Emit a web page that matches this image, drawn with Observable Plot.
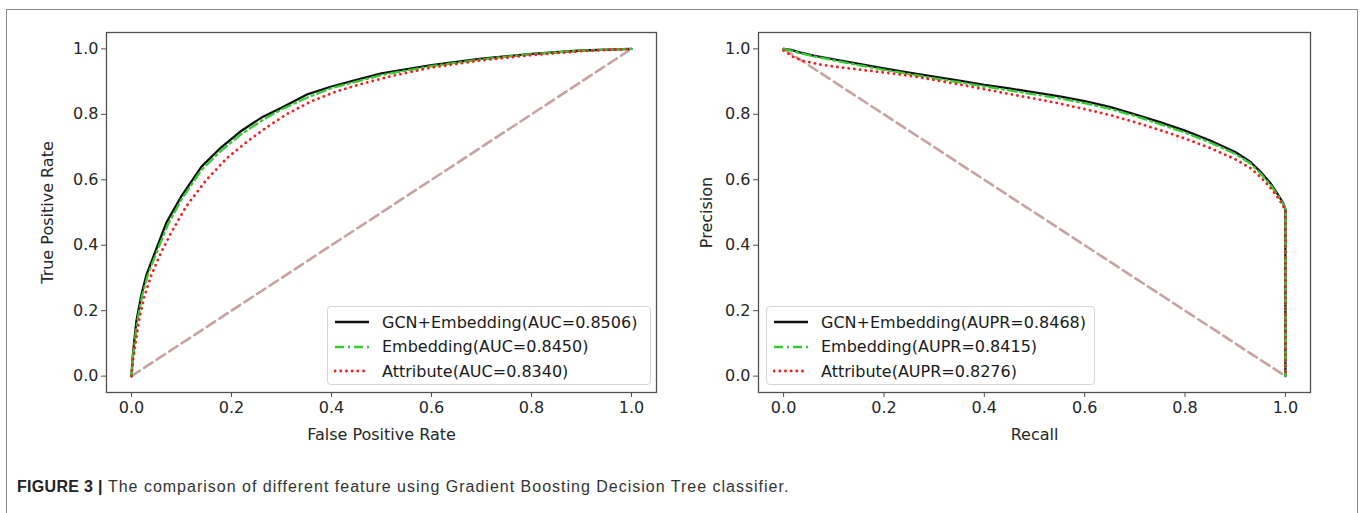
<!DOCTYPE html>
<html>
<head>
<meta charset="utf-8">
<script src="https://cdn.jsdelivr.net/npm/d3@7"></script>
<script src="https://cdn.jsdelivr.net/npm/@observablehq/plot@0.6"></script>
<style>
  html, body { margin: 0; padding: 0; background: #fff; }
  #root { position: relative; width: 1365px; height: 513px; overflow: hidden; background: #fff; }
  #border { position: absolute; left: 6px; top: 9px; width: 1352px; height: 540px; border: 1.5px solid #8c8c8c; box-sizing: border-box; }
  .plotwrap { position: absolute; top: 0; }
  .legend { position: absolute; border: 1px solid #d6d6d6; border-radius: 4px; background: rgba(255,255,255,0.85);
            font-family: "DejaVu Sans", sans-serif; font-size: 16px; color: #1a1a1a; box-sizing: border-box; }
  .legend .row { position: absolute; left: 0; height: 20px; display: flex; align-items: center; white-space: nowrap; }
  .legend svg { margin-left: 6px; margin-right: 12px; }
  #caption { position: absolute; left: 17px; top: 478px; font-family: "Liberation Sans", Arial, sans-serif; font-size: 16px; color: #333; white-space: nowrap; letter-spacing: 1.0px; }
  #caption b { color: #222; letter-spacing: 0.3px; }
</style>
</head>
<body>
<div id="root">
  <div id="border"></div>
  <div id="left" class="plotwrap" style="left:0px"></div>
  <div id="right" class="plotwrap" style="left:680px"></div>
  <div id="caption"><b>FIGURE 3 |</b> The comparison of different feature using Gradient Boosting Decision Tree classifier.</div>
</div>
<script>
// ---------- data ----------
const ticks = [0, 0.2, 0.4, 0.6, 0.8, 1.0];

// ROC curves
const rocGcnFpr = [0, 0.002, 0.005, 0.01, 0.02, 0.03, 0.05, 0.07, 0.1, 0.14, 0.18, 0.22, 0.26, 0.3, 0.35, 0.4, 0.45, 0.5, 0.6, 0.7, 0.8, 0.9, 1];
const rocGcnTpr = [0, 0.05, 0.1, 0.17, 0.25, 0.31, 0.39, 0.47, 0.55, 0.64, 0.70, 0.75, 0.79, 0.82, 0.86, 0.885, 0.905, 0.925, 0.95, 0.97, 0.985, 0.995, 1];
const rocEmbFpr = [0, 0.002, 0.006, 0.012, 0.022, 0.033, 0.052, 0.072, 0.1, 0.14, 0.18, 0.22, 0.26, 0.3, 0.35, 0.4, 0.45, 0.5, 0.6, 0.7, 0.8, 0.9, 1];
const rocEmbTpr = [0, 0.05, 0.1, 0.17, 0.25, 0.31, 0.385, 0.46, 0.54, 0.63, 0.69, 0.74, 0.78, 0.815, 0.85, 0.88, 0.9, 0.92, 0.947, 0.968, 0.984, 0.995, 1];
const rocAttFpr = [0, 0.003, 0.008, 0.015, 0.025, 0.04, 0.06, 0.08, 0.11, 0.15, 0.19, 0.23, 0.27, 0.31, 0.36, 0.41, 0.46, 0.52, 0.6, 0.7, 0.8, 0.9, 1];
const rocAttTpr = [0, 0.05, 0.1, 0.17, 0.24, 0.31, 0.38, 0.44, 0.52, 0.60, 0.665, 0.715, 0.76, 0.80, 0.84, 0.87, 0.893, 0.917, 0.943, 0.965, 0.981, 0.993, 1];
const rocChanceX = [0, 1];
const rocChanceY = [0, 1];

// PR curves
const prGcnRec = [0, 0.015, 0.03, 0.06, 0.1, 0.15, 0.2, 0.25, 0.3, 0.35, 0.4, 0.45, 0.5, 0.55, 0.6, 0.65, 0.7, 0.75, 0.8, 0.85, 0.9, 0.93, 0.95, 0.97, 0.985, 0.995, 1, 1];
const prGcnPre = [1, 0.997, 0.99, 0.979, 0.968, 0.954, 0.94, 0.927, 0.915, 0.903, 0.89, 0.879, 0.867, 0.855, 0.84, 0.823, 0.8, 0.776, 0.75, 0.72, 0.685, 0.655, 0.625, 0.59, 0.555, 0.53, 0.51, 0];
const prEmbRec = [0, 0.015, 0.03, 0.06, 0.1, 0.15, 0.2, 0.25, 0.3, 0.35, 0.4, 0.45, 0.5, 0.55, 0.6, 0.65, 0.7, 0.75, 0.8, 0.85, 0.9, 0.93, 0.95, 0.97, 0.985, 0.995, 1, 1];
const prEmbPre = [1, 0.995, 0.988, 0.977, 0.965, 0.95, 0.936, 0.923, 0.91, 0.898, 0.885, 0.873, 0.861, 0.849, 0.834, 0.817, 0.795, 0.77, 0.744, 0.714, 0.679, 0.65, 0.62, 0.585, 0.552, 0.527, 0.51, 0];
const prAttRec = [0, 0.01, 0.02, 0.04, 0.07, 0.1, 0.15, 0.2, 0.25, 0.3, 0.35, 0.4, 0.45, 0.5, 0.55, 0.6, 0.65, 0.7, 0.75, 0.8, 0.85, 0.9, 0.93, 0.95, 0.97, 0.985, 0.995, 1, 1];
const prAttPre = [0.995, 0.985, 0.975, 0.963, 0.953, 0.946, 0.937, 0.928, 0.918, 0.905, 0.891, 0.877, 0.862, 0.848, 0.833, 0.816, 0.798, 0.776, 0.752, 0.726, 0.697, 0.663, 0.636, 0.609, 0.576, 0.546, 0.522, 0.505, 0];
const prChanceX = [0, 1];
const prChanceY = [1, 0];

const rocLabels = ["GCN+Embedding(AUC=0.8506)", "Embedding(AUC=0.8450)", "Attribute(AUC=0.8340)"];
const prLabels = ["GCN+Embedding(AUPR=0.8468)", "Embedding(AUPR=0.8415)", "Attribute(AUPR=0.8276)"];

// ---------- helpers ----------
const zip = (xs, ys) => xs.map((x, i) => ({x, y: ys[i]}));
const styles = {
  gcn:  {stroke: "#111111", strokeWidth: 2.3},
  emb:  {stroke: "#33cc33", strokeWidth: 2.3, strokeDasharray: "9,4,2,4"},
  att:  {stroke: "#ff1a1a", strokeWidth: 2.8, strokeDasharray: "0.1,5.6", strokeLinecap: "round"},
  chance: {stroke: "#c6a2a2", strokeWidth: 2.6, strokeDasharray: "10,5"}
};

function panel({width, marginLeft, marginRight, xLabel, yLabel, yLabelDx, series}) {
  return Plot.plot({
    width, height: 460,
    marginLeft, marginRight, marginTop: 32, marginBottom: 68,
    x: {domain: [-0.05, 1.05]},
    y: {domain: [-0.05, 1.05]},
    style: {fontFamily: "DejaVu Sans, sans-serif", fontSize: "16px", color: "#262626", background: "transparent", overflow: "visible"},
    marks: [
      Plot.line(series.chance, {x: "x", y: "y", ...styles.chance}),
      Plot.line(series.gcn, {x: "x", y: "y", ...styles.gcn}),
      Plot.line(series.emb, {x: "x", y: "y", ...styles.emb}),
      Plot.line(series.att, {x: "x", y: "y", ...styles.att}),
      Plot.frame({stroke: "#505050", strokeWidth: 1.3}),
      Plot.axisX({ticks, tickSize: 5, tickPadding: 4, tickFormat: d3.format(".1f"), label: null, stroke: "#505050", fontSize: 16}),
      Plot.axisY({ticks, tickSize: 5, tickPadding: 3, tickFormat: d3.format(".1f"), label: null, stroke: "#505050", fontSize: 16}),
      Plot.text([xLabel], {frameAnchor: "bottom", dy: 42, text: d => d, textAnchor: "middle", lineAnchor: "middle", fontSize: 16, fill: "#262626"}),
      Plot.text([yLabel], {frameAnchor: "left", dx: yLabelDx, rotate: -90, text: d => d, textAnchor: "middle", lineAnchor: "middle", fontSize: 16, fill: "#262626"})
    ]
  });
}

document.getElementById("left").appendChild(panel({
  width: 680, marginLeft: 106, marginRight: 24,
  xLabel: "False Positive Rate", yLabel: "True Positive Rate", yLabelDx: -59,
  series: {
    gcn: zip(rocGcnFpr, rocGcnTpr), emb: zip(rocEmbFpr, rocEmbTpr), att: zip(rocAttFpr, rocAttTpr),
    chance: zip(rocChanceX, rocChanceY)
  }
}));
document.getElementById("right").appendChild(panel({
  width: 685, marginLeft: 78, marginRight: 55,
  xLabel: "Recall", yLabel: "Precision", yLabelDx: -52,
  series: {
    gcn: zip(prGcnRec, prGcnPre), emb: zip(prEmbRec, prEmbPre), att: zip(prAttRec, prAttPre),
    chance: zip(prChanceX, prChanceY)
  }
}));

// ---------- legends ----------
function legend(left, top, w, labels) {
  const box = document.createElement("div");
  box.className = "legend";
  Object.assign(box.style, {left: left + "px", top: top + "px", width: w + "px", height: "79px"});
  const keys = ["gcn", "emb", "att"];
  labels.forEach((lab, i) => {
    const row = document.createElement("div");
    row.className = "row";
    row.style.top = (5 + i * 24.5) + "px";
    const s = styles[keys[i]];
    const ns = "http://www.w3.org/2000/svg";
    const svg = document.createElementNS(ns, "svg");
    svg.setAttribute("width", 36); svg.setAttribute("height", 20);
    const ln = document.createElementNS(ns, "line");
    ln.setAttribute("x1", 1); ln.setAttribute("x2", 35); ln.setAttribute("y1", 10); ln.setAttribute("y2", 10);
    ln.setAttribute("stroke", s.stroke); ln.setAttribute("stroke-width", s.strokeWidth);
    if (s.strokeDasharray) ln.setAttribute("stroke-dasharray", s.strokeDasharray);
    if (s.strokeLinecap) ln.setAttribute("stroke-linecap", s.strokeLinecap);
    svg.appendChild(ln);
    row.appendChild(svg);
    const t = document.createElement("span");
    t.textContent = lab;
    row.appendChild(t);
    box.appendChild(row);
  });
  document.getElementById("root").appendChild(box);
}
legend(327, 306, 324, rocLabels);
legend(766, 306, 329, prLabels);
</script>
</body>
</html>
